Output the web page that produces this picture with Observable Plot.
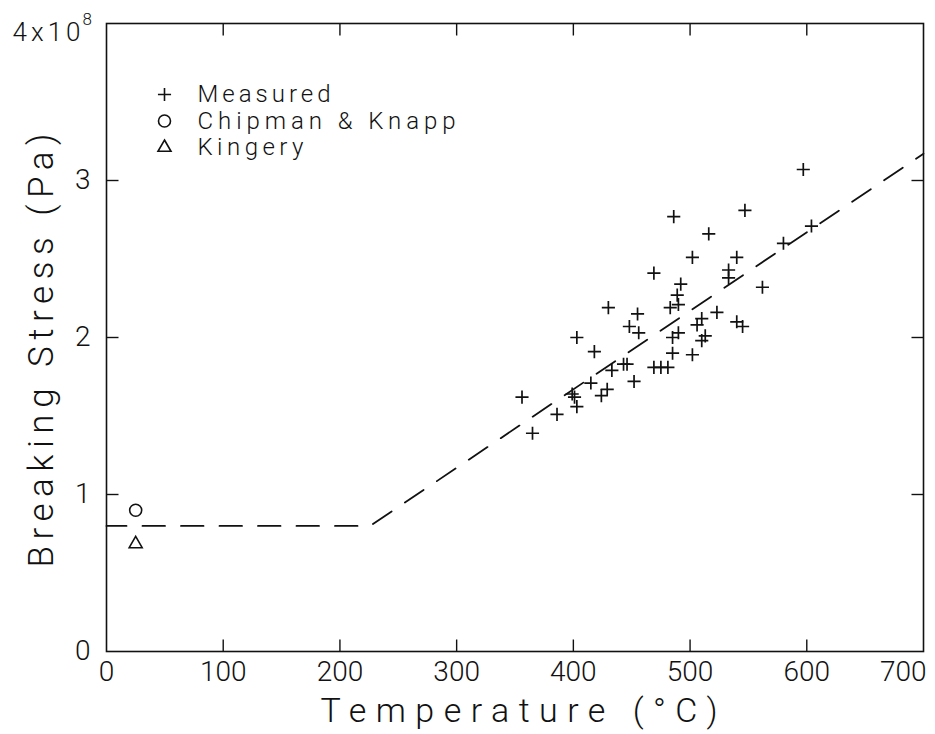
<!DOCTYPE html>
<html>
<head>
<meta charset="utf-8">
<script src="https://cdn.jsdelivr.net/npm/d3@7"></script>
<script src="https://cdn.jsdelivr.net/npm/@observablehq/plot@0.6"></script>
<style>
  html, body { margin: 0; padding: 0; background: #fff; }
  #chart svg { display: block; }
</style>
</head>
<body>
<div id="chart"></div>
<script>
// ---- Data (stress values in units of 1e8 Pa) ----
const measuredTemp = [356, 365, 386, 399, 401, 403, 403, 415, 418, 424, 429, 430, 433, 443, 446, 448, 452, 455, 456,
  469, 475, 481, 469, 483, 485, 485, 486, 489, 490, 492, 490, 502, 502, 506, 510, 513, 510, 516, 523, 533, 533,
  540, 540, 545, 547, 562, 580, 597, 604];
const measuredStress = [1.62, 1.39, 1.51, 1.64, 1.62, 1.56, 2.00, 1.71, 1.91, 1.63, 1.67, 2.19, 1.79, 1.83, 1.83, 2.07, 1.72, 2.15, 2.03,
  1.81, 1.81, 1.81, 2.41, 2.19, 2.00, 1.90, 2.77, 2.27, 2.21, 2.34, 2.03, 1.89, 2.51, 2.08, 2.12, 2.01, 1.98, 2.66, 2.16, 2.43, 2.38,
  2.51, 2.10, 2.07, 2.81, 2.32, 2.60, 3.07, 2.71];
const chipmanTemp = [25];
const chipmanStress = [0.90];
const kingeryTemp = [25];
const kingeryStress = [0.685];
const fitTemp = [0, 226, 700];
const fitStress = [0.80, 0.80, 3.17];

const xTickValues = [0, 100, 200, 300, 400, 500, 600, 700];
const yTickValues = [0, 1, 2, 3];
const yTopMantissa = "4x10";
const yTopExponent = "8";
const legendLabels = ["Measured", "Chipman & Knapp", "Kingery"];
const legendSymbols = ["plus", "circle", "triangle2"];
const xTitle = "Temperature (°C)";
const yTitle = "Breaking Stress (Pa)";
const UNIT = 1e8;

// ---- Build tables ----
const measured = measuredTemp.map((t, i) => ({t, s: measuredStress[i] * UNIT}));
const chipman = chipmanTemp.map((t, i) => ({t, s: chipmanStress[i] * UNIT}));
const kingery = kingeryTemp.map((t, i) => ({t, s: kingeryStress[i] * UNIT}));
const fit = fitTemp.map((t, i) => ({t, s: fitStress[i] * UNIT}));

const xMin = xTickValues[0], xMax = xTickValues[xTickValues.length - 1];
const yMax = 4 * UNIT;
const innerX = xTickValues.slice(1, -1);
const innerY = yTickValues.slice(1).map(d => d * UNIT);

// inward tick "symbols" (fixed pixel length)
const TL = 12;
const seg = (dx, dy) => ({draw(ctx) { ctx.moveTo(0, 0); ctx.lineTo(dx, dy); }});

const FONT = "Roboto, 'DejaVu Sans', sans-serif";
const ink = "#111";
const symR = {plus: 4.3, circle: 6, triangle2: 6.2};

const marks = [
  Plot.frame({stroke: ink, strokeWidth: 1.6}),
  // ticks on all four sides, pointing inward
  Plot.dot(innerX, {x: d => d, y: 0, symbol: seg(0, -TL), fill: "none", stroke: ink, strokeWidth: 1.4}),
  Plot.dot(innerX, {x: d => d, y: yMax, symbol: seg(0, TL), fill: "none", stroke: ink, strokeWidth: 1.4}),
  Plot.dot(innerY, {x: xMin, y: d => d, symbol: seg(TL, 0), fill: "none", stroke: ink, strokeWidth: 1.4}),
  Plot.dot(innerY, {x: xMax, y: d => d, symbol: seg(-TL, 0), fill: "none", stroke: ink, strokeWidth: 1.4}),
  // tick labels
  Plot.text(xTickValues.slice(0, -1), {x: d => d, y: 0, dy: 21, text: d => String(d), fontSize: 28, fill: ink}),
  Plot.text(xTickValues.slice(-1), {x: d => d, y: 0, dy: 21, dx: 3, textAnchor: "end", text: d => String(d), fontSize: 28, fill: ink}),
  Plot.text(yTickValues, {x: xMin, y: d => d * UNIT, dx: -16, textAnchor: "end", text: d => String(d), fontSize: 28, fill: ink}),
  Plot.text([yTopMantissa], {x: xMin, y: yMax, dx: -26, dy: 9, textAnchor: "end", text: d => d, fontSize: 26, fill: ink}),
  Plot.text([yTopExponent], {x: xMin, y: yMax, dx: -24, dy: -4, textAnchor: "start", text: d => d, fontSize: 17, fill: ink}),
  // axis titles
  Plot.text([xTitle], {frameAnchor: "bottom", lineAnchor: "middle", textAnchor: "middle", dy: 60, dx: 4, text: d => d, fontSize: 34, fill: ink}),
  Plot.text([yTitle], {frameAnchor: "left", lineAnchor: "middle", textAnchor: "middle", dx: -65, dy: 13, rotate: -90, text: d => d, fontSize: 35, fill: ink}),
  // fit line
  Plot.line(fit, {x: "t", y: "s", stroke: ink, strokeWidth: 1.8, strokeDasharray: "22.5,16", strokeDashoffset: 2.5}),
  // data
  Plot.dot(measured, {x: "t", y: "s", symbol: "plus", r: symR.plus, stroke: ink, strokeWidth: 1.7}),
  Plot.dot(chipman, {x: "t", y: "s", symbol: "circle", r: symR.circle, fill: "none", stroke: ink, strokeWidth: 1.6}),
  Plot.dot(kingery, {x: "t", y: "s", symbol: "triangle2", r: symR.triangle2, fill: "none", stroke: ink, strokeWidth: 1.6})
];

// legend inside the frame
legendLabels.forEach((label, i) => {
  const dy = 71 + i * 26.5;
  marks.push(Plot.dot([label], {frameAnchor: "top-left", dx: 58, dy, symbol: legendSymbols[i],
    r: symR[legendSymbols[i]], fill: "none", stroke: ink, strokeWidth: 1.6}));
  marks.push(Plot.text([label], {frameAnchor: "top-left", lineAnchor: "middle", dx: 91, dy, textAnchor: "start", text: d => d, fontSize: 24, fill: ink}));
});

const chart = Plot.plot({
  width: 935,
  height: 734,
  marginLeft: 106,
  marginRight: 12,
  marginTop: 23,
  marginBottom: 83,
  style: {fontFamily: FONT, fontWeight: 300, background: "#fff", color: ink},
  x: {domain: [xMin, xMax], axis: null},
  y: {domain: [0, yMax], axis: null},
  marks
});

// stretch the plotter-font texts to the widths seen in the original
const textWidths = new Map([
  [xTitle, 397], [yTitle, 434], [yTopMantissa, 68],
  ["Measured", 133], ["Chipman & Knapp", 258], ["Kingery", 106]
]);
chart.querySelectorAll("text").forEach(t => {
  const w = textWidths.get(t.textContent);
  if (w) { t.setAttribute("textLength", w); t.setAttribute("lengthAdjust", "spacing"); }
});

document.getElementById("chart").appendChild(chart);
</script>
</body>
</html>
